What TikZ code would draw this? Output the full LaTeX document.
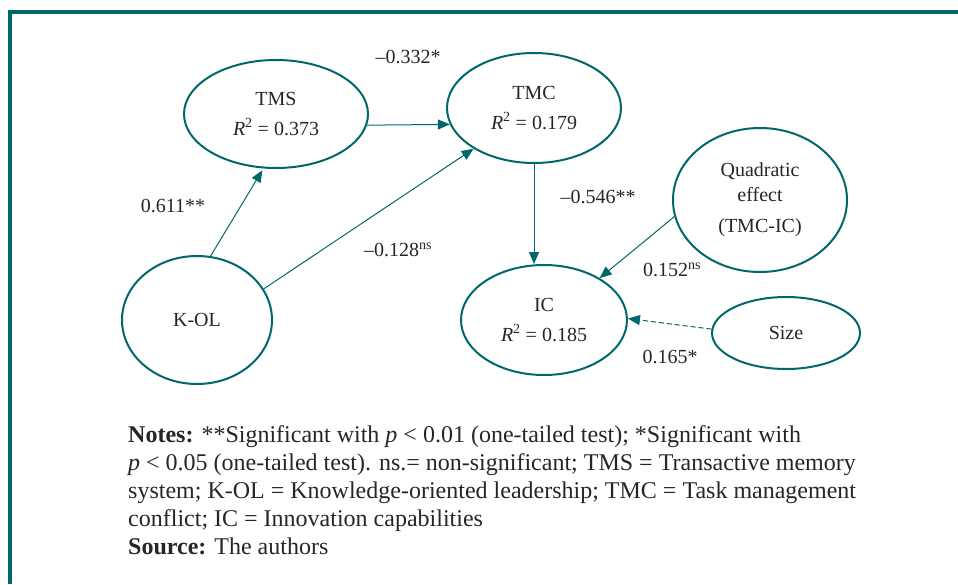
\documentclass[tikz,border=0pt]{standalone}
\usepackage{fontspec}
\setmainfont{Liberation Serif}
\usetikzlibrary{shapes.geometric,arrows.meta}
\definecolor{teal1}{HTML}{00686A}
\begin{document}
\begin{tikzpicture}[x=1pt,y=-1pt,
  var/.style={ellipse,draw=teal1,line width=2pt,inner sep=0pt,align=center,
    font=\fontsize{20}{30}\selectfont,text=black!85},
  link/.style={draw=teal1,line width=1pt,-{Triangle[length=12pt,width=10pt]}},
  lbl/.style={font=\fontsize{20}{24}\selectfont,inner sep=0pt,text=black!85}]
\useasboundingbox (0,0) rectangle (958,584);
\draw[teal1,line width=4pt] (9.5,584) -- (9.5,12) -- (958,12);

\node[var,minimum width=184pt,minimum height=108pt] (tms) at (276,114)
  {TMS\\\textit{R}\textsuperscript{2} = 0.373};
\node[var,minimum width=174pt,minimum height=110pt] (tmc) at (534,108)
  {TMC\\\textit{R}\textsuperscript{2} = 0.179};
\node[var,minimum width=174pt,minimum height=144pt,font=\fontsize{20}{25}\selectfont] (quad) at (760,200)
  {Quadratic\\effect\\[6pt](TMC-IC)};
\node[var,minimum width=166pt,minimum height=110pt] (ic) at (544,320)
  {IC\\\textit{R}\textsuperscript{2} = 0.185};
\node[var,minimum width=148pt,minimum height=72pt] (size) at (786,333) {Size};
\node[var,minimum width=150pt,minimum height=128pt] (kol) at (197,320) {K-OL};

\draw[link] (tms.-7) -- (tmc.191);
\draw[link,shorten >=2pt] (kol.78) -- (tms.257);
\draw[link] (kol.25.5) -- (tmc.214);
\draw[link] (tmc.south) -- (tmc.south |- ic.north);
\draw[link] (quad.191.7) -- (ic.37.7);
\draw[link,dash pattern=on 5pt off 3pt] (size.177.7) -- (ic.1.4);

\node[lbl] (l1) at (408,57) {–0.332*};
\node[lbl] (l2) at (173,206) {0.611**};
\node[lbl] (l3) at (398,250) {–0.128\textsuperscript{ns}};
\node[lbl] (l4) at (598,197) {–0.546**};
\node[lbl] (l5) at (672,270) {0.152\textsuperscript{ns}};
\node[lbl] (l6) at (670,357) {0.165*};

\node[anchor=north west,align=left,inner sep=0pt,text=black!85,
  font=\fontsize{24}{28}\selectfont] (notes) at (128,425)
  {\textbf{Notes:} **Significant with \textit{p} < 0.01 (one-tailed test); *Significant with\\
   \textit{p} < 0.05 (one-tailed test). ns.= non-significant; TMS = Transactive memory\\
   system; K-OL = Knowledge-oriented leadership; TMC = Task management\\
   conflict; IC = Innovation capabilities\\
   \textbf{Source:} The authors};
\end{tikzpicture}
\end{document}
